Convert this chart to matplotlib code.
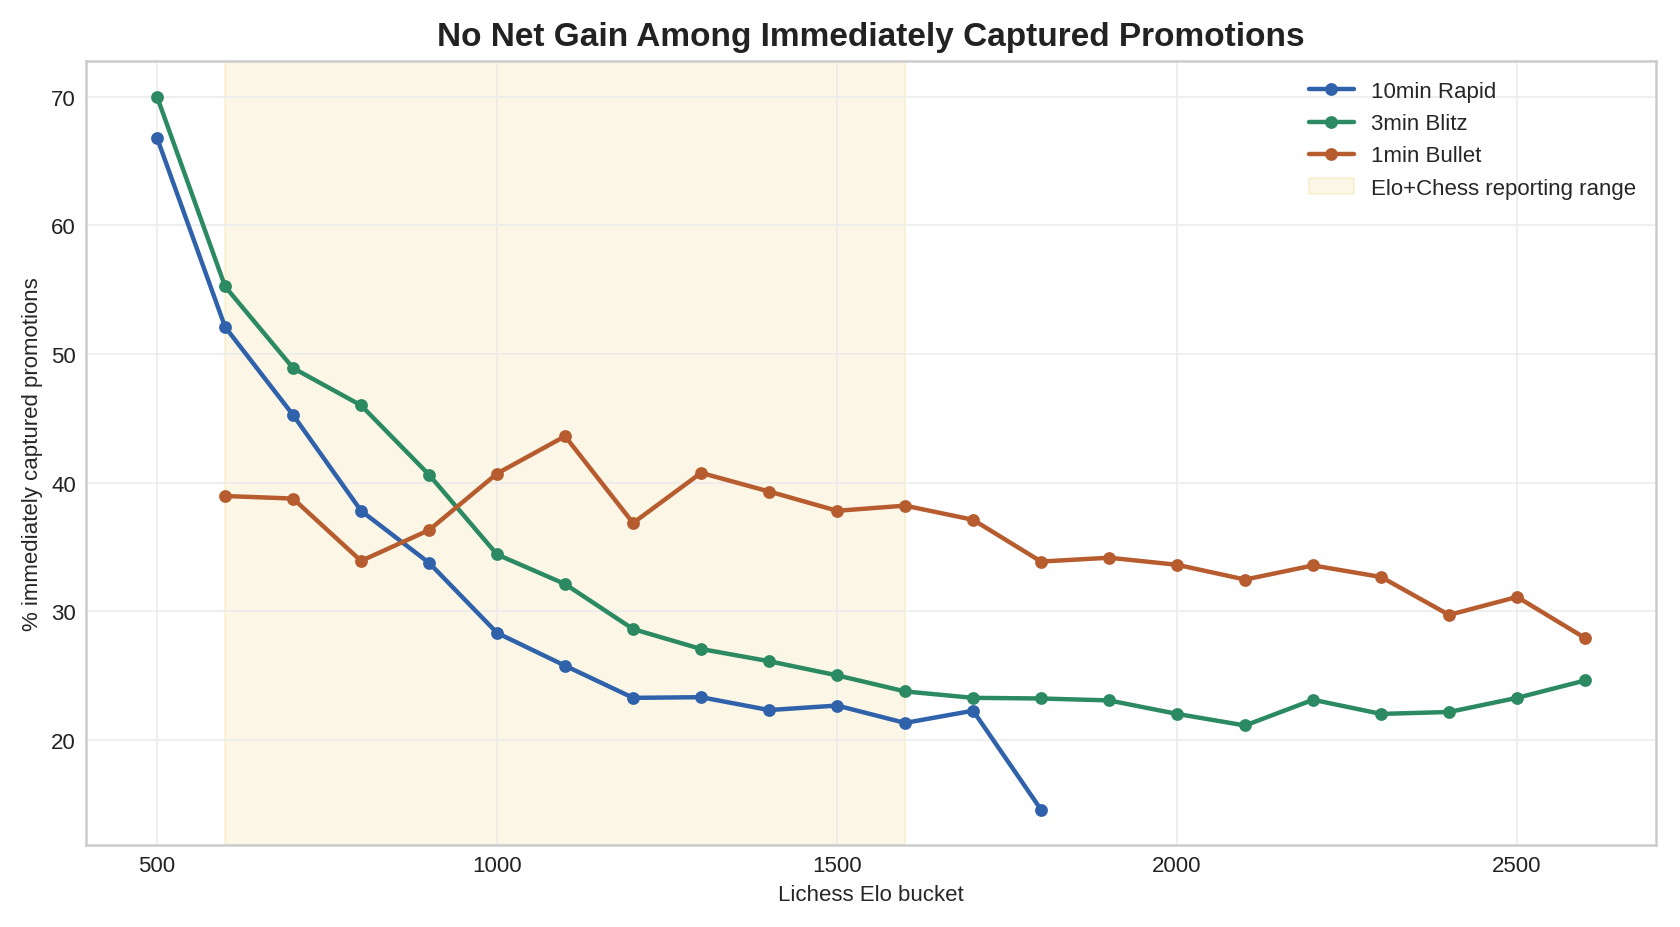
import numpy as np
import matplotlib
matplotlib.use('Agg')
import matplotlib.pyplot as plt

elo_rapid = [500, 600, 700, 800, 900, 1000, 1100, 1200, 1300, 1400, 1500, 1600, 1700, 1800]
rapid = [66.8, 52.1, 45.25, 37.8, 33.75, 28.3, 25.75, 23.25, 23.3, 22.3, 22.65, 21.3, 22.25, 14.55]

elo_blitz = [500, 600, 700, 800, 900, 1000, 1100, 1200, 1300, 1400, 1500, 1600, 1700,
             1800, 1900, 2000, 2100, 2200, 2300, 2400, 2500, 2600]
blitz = [70.0, 55.25, 48.9, 46.0, 40.6, 34.4, 32.1, 28.6, 27.05, 26.1, 25.0, 23.75, 23.25,
         23.2, 23.05, 22.0, 21.1, 23.1, 22.0, 22.15, 23.25, 24.6]

elo_bullet = [600, 700, 800, 900, 1000, 1100, 1200, 1300, 1400, 1500, 1600, 1700,
              1800, 1900, 2000, 2100, 2200, 2300, 2400, 2500, 2600]
bullet = [38.95, 38.75, 33.9, 36.3, 40.7, 43.6, 36.85, 40.75, 39.3, 37.8, 38.2, 37.1,
          33.85, 34.15, 33.6, 32.45, 33.55, 32.65, 29.7, 31.1, 27.9]

span_lo, span_hi = 600, 1600

plt.style.use('seaborn-v0_8-whitegrid')
plt.rcParams['font.family'] = ['Liberation Sans', 'DejaVu Sans']

fig = plt.figure(figsize=(8.4, 4.64), dpi=200)
ax = fig.add_subplot(111)
fig.subplots_adjust(left=0.051, right=0.986, top=0.933, bottom=0.088)

ax.plot(elo_rapid, rapid, '-o', color='#2f62aa', lw=1.6, ms=3.6, label='10min Rapid')
ax.plot(elo_blitz, blitz, '-o', color='#2b8a62', lw=1.6, ms=3.6, label='3min Blitz')
ax.plot(elo_bullet, bullet, '-o', color='#b65c2f', lw=1.6, ms=3.6, label='1min Bullet')
ax.axvspan(span_lo, span_hi, facecolor='#f0d68a', edgecolor='#e8c860', alpha=0.22, lw=0.6,
           label='Elo+Chess reporting range', zorder=0)

ax.set_xticks([500, 1000, 1500, 2000, 2500])
ax.set_yticks([20, 30, 40, 50, 60, 70])
ax.tick_params(labelsize=8, colors='#222222')
ax.grid(True, color='#ececec', lw=0.6)
for s in ax.spines.values():
    s.set_visible(True)
    s.set_color('#cccccc')
    s.set_linewidth(0.9)

ax.set_xlabel('Lichess Elo bucket', fontsize=8, labelpad=3)
ax.set_ylabel('% immediately captured promotions', fontsize=8, labelpad=3)
ax.set_title('No Net Gain Among Immediately Captured Promotions', fontsize=12,
             fontweight='bold', color='#222222', pad=6)
ax.legend(loc='upper right', fontsize=8, frameon=False, handlelength=2.0)

fig.savefig('out.png', dpi=200)
